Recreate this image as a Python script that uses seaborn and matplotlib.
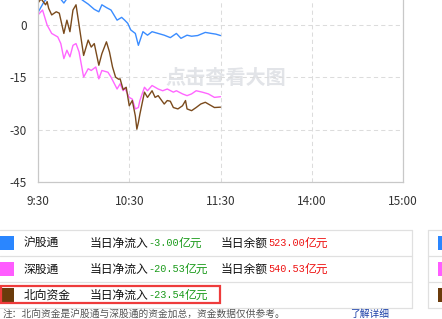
import matplotlib
matplotlib.use("Agg")
import matplotlib.pyplot as plt
import pandas as pd
import seaborn as sns
from matplotlib.patches import Rectangle

# ---------------- data ----------------
series_names = ["沪股通", "深股通", "北向资金"]
series_colors = ["#3a8cff", "#ff66ff", "#7a4a1c"]
square_colors = ["#2a86ff", "#ff5cff", "#6b3b0b"]

# minutes after 9:30 (trading time axis), values in 亿元
hgt_min = [0, 4, 8, 12, 17, 21, 25, 29, 33, 37, 40, 42, 45, 48, 52, 55, 57, 59, 61,
           64, 66, 69, 72, 75, 79, 83, 87, 91, 94, 98, 101, 105, 110, 114, 117, 120]
hgt_val = [3.6, 6.7, 8.5, 9.0, 6.3, 8.8, 9.5, 7.2, 6.0, 4.5, 3.8, 5.8, 5.0, 4.3, 1.4,
           2.2, 1.4, 0.5, -1.4, -2.4, -5.8, -1.9, -2.9, -1.9, -2.4, -2.9, -3.6, -2.4,
           -3.8, -2.9, -3.2, -3.0, -2.1, -2.4, -2.6, -3.0]

sgt_min = [0, 3, 6, 9, 13, 15, 17, 19, 21, 23, 25, 27, 30, 33, 35, 38, 40, 42, 46, 48,
           52, 54, 56, 57, 60, 62, 64, 66, 67, 70, 72, 75, 79, 82, 85, 89, 91, 95, 98,
           101, 104, 108, 112, 116, 120]
sgt_val = [2.9, 4.3, 0.0, -2.4, -3.4, -5.3, -9.6, -7.2, -9.1, -5.8, -5.3, -7.7, -14.9,
           -12.5, -13.0, -12.0, -15.4, -13.0, -13.5, -14.9, -18.3, -16.8, -18.8, -18.0,
           -20.7, -21.2, -24.0, -23.6, -21.6, -17.8, -18.8, -17.3, -18.3, -18.8, -18.3,
           -19.2, -18.8, -19.7, -20.2, -19.7, -18.8, -19.2, -19.7, -20.7, -20.5]

bx_min = [0, 2, 5, 6, 7, 9, 12, 14, 17, 19, 21, 23, 25, 27, 30, 33, 35, 37, 40, 42, 45,
          47, 49, 51, 53, 54, 56, 58, 60, 62, 64, 65, 66, 67, 70, 72, 75, 77, 79, 83,
          85, 87, 89, 92, 95, 97, 98, 101, 104, 107, 110, 112, 116, 120]
bx_val = [6.3, 7.5, 5.8, 6.7, 4.8, 2.9, 3.8, 3.4, -2.4, 1.4, -1.9, 4.3, 5.8, 0.0, -8.7,
          -4.3, -6.3, -5.3, -11.5, -8.2, -4.8, -7.7, -12.0, -14.9, -15.5, -15.4, -18.5,
          -17.8, -23.1, -21.6, -26.0, -29.8, -27.9, -25.5, -19.2, -20.7, -18.8, -20.7,
          -20.2, -22.6, -21.6, -21.8, -23.6, -24.0, -23.1, -21.6, -24.0, -24.5, -23.6,
          -22.6, -22.1, -22.6, -23.6, -23.5]

x_tick_pos = [0, 60, 120, 180, 240]
x_tick_labels = ["9:30", "10:30", "11:30", "14:00", "15:00"]
y_ticks = [0, -15, -30, -45]

net_label = "当日净流入"
bal_label = "当日余额"
net_inflow = ["-3.00", "-20.53", "-23.54"]
balance = ["523.00", "540.53", None]
unit = "亿元"
watermark = "点击查看大图"
note = "注：北向资金是沪股通与深股通的资金加总，资金数据仅供参考。"
link = "了解详细"

# ---------------- figure ----------------
sns.set_theme(style="white")
plt.rcParams["font.family"] = ["Noto Sans CJK SC", "DejaVu Sans"]

W, H = 442, 319
fig = plt.figure(figsize=(W / 100, H / 100), dpi=100)
fig.patch.set_facecolor("white")

# overlay axes in pixel coordinates (table, watermark, notes)
ov = fig.add_axes([0, 0, 1, 1], zorder=0)
ov.set_xlim(0, W)
ov.set_ylim(H, 0)
ov.axis("off")

# plot axes
ax = fig.add_axes([38 / W, 1 - 182.3 / H, 365 / W, 182.3 / H], zorder=1)
ax.patch.set_alpha(0)

frames = []
for name, mins, vals in zip(series_names, [hgt_min, sgt_min, bx_min], [hgt_val, sgt_val, bx_val]):
    frames.append(pd.DataFrame({"t": mins, "v": vals, "s": name}))
df = pd.concat(frames, ignore_index=True)

sns.lineplot(data=df, x="t", y="v", hue="s", hue_order=series_names,
             palette=series_colors, linewidth=1.0, legend=False, ax=ax,
             estimator=None, sort=False)

ax.set_xlim(0, 240)
ax.set_ylim(-45, 7.17)
ax.set_xticks(x_tick_pos)
ax.set_xticklabels(x_tick_labels)
ax.set_yticks(y_ticks)
ax.set_yticklabels([str(v) for v in y_ticks])
ax.set_xlabel("")
ax.set_ylabel("")
ax.tick_params(axis="both", length=0, labelsize=8.5, colors="#333333")
ax.tick_params(axis="x", pad=9)
ax.tick_params(axis="y", pad=8)
ax.grid(True, color="#dcdcdc", linestyle=(0, (4, 3)), linewidth=0.75)
for side in ["left", "bottom", "right"]:
    ax.spines[side].set_color("#c8c8c8")
    ax.spines[side].set_linewidth(0.9)
ax.spines["top"].set_visible(False)

# watermark
ov.text(226, 78, watermark, fontsize=14.5, fontweight="bold", color="#e2e4e8",
        ha="center", va="center")

# ---------------- table ----------------
line_c = "#e0e0e0"
row_lines = [230, 256, 282, 308]
for y in row_lines:
    ov.plot([0, 412], [y, y], color=line_c, linewidth=0.9)
    ov.plot([428, W], [y, y], color=line_c, linewidth=0.9)
ov.plot([412, 412], [230, 308], color=line_c, linewidth=0.9)
ov.plot([428, 428], [230, 308], color=line_c, linewidth=0.9)

row_y = [243.3, 269.3, 295.3]
mono = ["Liberation Mono", "DejaVu Sans Mono"]
for i, name in enumerate(series_names):
    y = row_y[i]
    ov.add_patch(Rectangle((0, y - 7), 14, 14, facecolor=square_colors[i], edgecolor="none"))
    ov.add_patch(Rectangle((438, y - 7), 10, 14, facecolor=square_colors[i], edgecolor="none"))
    ov.text(24, y, name, fontsize=8.5, color="#111111", ha="left", va="center")
    ov.text(89.3, y, net_label, fontsize=8.5, color="#111111", ha="left", va="center")
    ov.text(148.3, y, net_inflow[i], fontsize=7.3, family=mono, color="#1a9a1a",
            ha="left", va="center")
    ov.text(148.3 + 6.05 * len(net_inflow[i]), y, unit, fontsize=8.5, color="#1a9a1a",
            ha="left", va="center")
    if balance[i] is not None:
        ov.text(221, y, bal_label, fontsize=8.5, color="#111111", ha="left", va="center")
        ov.text(268.3, y, balance[i], fontsize=7.3, family=mono, color="#ee1111",
                ha="left", va="center")
        ov.text(268.3 + 6.05 * len(balance[i]), y, unit, fontsize=8.5, color="#ee1111",
                ha="left", va="center")

# highlight box
ov.add_patch(Rectangle((0.8, 285.5), 218.7, 17.5, facecolor="none",
                       edgecolor="#ee3b3b", linewidth=1.6))

# note at the bottom
ov.text(3, 318.6, note, fontsize=7.0, color="#555555", ha="left", va="bottom")
ov.text(350, 318.6, link, fontsize=7.0, color="#1a3fa8", ha="left", va="bottom")

fig.savefig("out.png", dpi=100, facecolor="white")
